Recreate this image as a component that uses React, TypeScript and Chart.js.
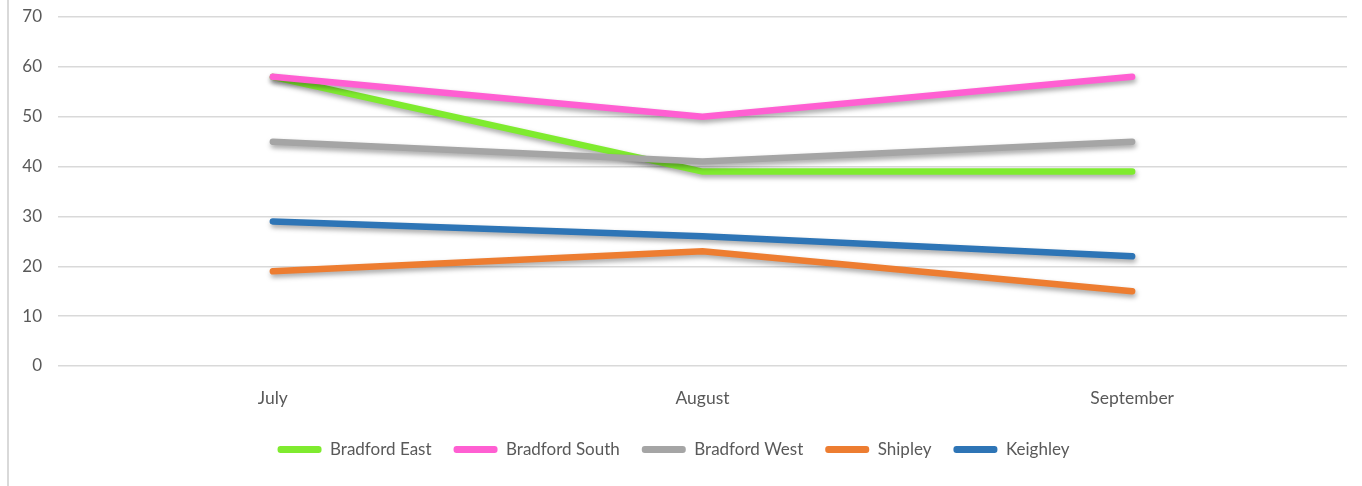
import React, { useEffect, useRef } from "react";
import { Chart, registerables } from "chart.js";

Chart.register(...registerables);

const categories = ["July", "August", "September"];
const seriesNames = ["Bradford East", "Bradford South", "Bradford West", "Shipley", "Keighley"];
const bradfordEast = [58, 39, 39];
const bradfordSouth = [58, 50, 58];
const bradfordWest = [45, 41, 45];
const shipley = [19, 23, 15];
const keighley = [29, 26, 22];
const seriesColors = ["#7FEB2F", "#FF5FD2", "#A5A5A5", "#ED7D31", "#2E75B6"];
const yTicks = [0, 10, 20, 30, 40, 50, 60, 70];

const FONT = "Lato, 'Open Sans', sans-serif";

const shadowPlugin = {
  id: "lineShadow",
  beforeDatasetDraw(chart: any) {
    const ctx = chart.ctx;
    ctx.save();
    ctx.shadowColor = "rgba(0,0,0,0.35)";
    ctx.shadowBlur = 5;
    ctx.shadowOffsetX = 1;
    ctx.shadowOffsetY = 3;
  },
  afterDatasetDraw(chart: any) {
    chart.ctx.restore();
  },
};

export default function App() {
  const canvasRef = useRef<HTMLCanvasElement | null>(null);

  useEffect(() => {
    const values = [bradfordEast, bradfordSouth, bradfordWest, shipley, keighley];
    const chart = new Chart(canvasRef.current as HTMLCanvasElement, {
      type: "line",
      data: {
        labels: categories,
        datasets: seriesNames.map((name, i) => ({
          label: name,
          data: values[i],
          borderColor: seriesColors[i],
          backgroundColor: seriesColors[i],
          borderWidth: 6.5,
          borderCapStyle: "round" as const,
          borderJoinStyle: "miter" as const,
          pointRadius: 0,
          pointHoverRadius: 0,
          tension: 0,
          order: seriesNames.length - i,
        })),
      },
      options: {
        animation: false,
        responsive: false,
        maintainAspectRatio: false,
        layout: { padding: { left: 0, right: 15, top: 17, bottom: 18 } },
        plugins: {
          tooltip: { enabled: false },
          legend: {
            position: "bottom",
            labels: {
              color: "#595959",
              font: { family: FONT, size: 17 },
              boxWidth: 44,
              boxHeight: 7,
              padding: 22,
              useBorderRadius: true,
              borderRadius: 3,
              sort: (a: any, b: any) => a.datasetIndex - b.datasetIndex,
              generateLabels: (c: any) =>
                c.data.datasets.map((ds: any, i: number) => ({
                  text: ds.label,
                  fillStyle: ds.borderColor,
                  strokeStyle: ds.borderColor,
                  lineWidth: 0,
                  hidden: false,
                  datasetIndex: i,
                  borderRadius: 3,
                  fontColor: "#595959",
                })),
            },
          },
        },
        scales: {
          x: {
            offset: true,
            afterFit: (scale: any) => {
              scale.height = 53;
              scale.paddingLeft = 0;
              scale.paddingRight = 0;
            },
            grid: { display: false, drawTicks: false },
            border: { display: false },
            ticks: { color: "#595959", font: { family: FONT, size: 17.5 }, padding: 22 },
          },
          y: {
            min: 0,
            max: 70,
            afterFit: (scale: any) => {
              scale.width = 58;
              scale.paddingTop = 0;
              scale.paddingBottom = 0;
            },
            afterBuildTicks: (scale: any) => {
              scale.ticks = yTicks.map((v) => ({ value: v }));
            },
            grid: { color: "#D9D9D9", lineWidth: 1.5, drawTicks: false },
            border: { display: false },
            ticks: { color: "#595959", font: { family: FONT, size: 17 }, padding: 16 },
          },
        },
      },
      plugins: [shadowPlugin],
    });
    return () => chart.destroy();
  }, []);

  return (
    <div
      style={{
        position: "fixed",
        left: 0,
        top: 0,
        width: 1362,
        height: 486,
        background: "#fff",
      }}
    >
      <div
        style={{
          position: "absolute",
          left: 7,
          top: 0,
          width: 2,
          height: 486,
          background: "#D9D9D9",
        }}
      />
      <canvas ref={canvasRef} width={1362} height={486} style={{ position: "absolute", left: 0, top: 0 }} />
    </div>
  );
}
